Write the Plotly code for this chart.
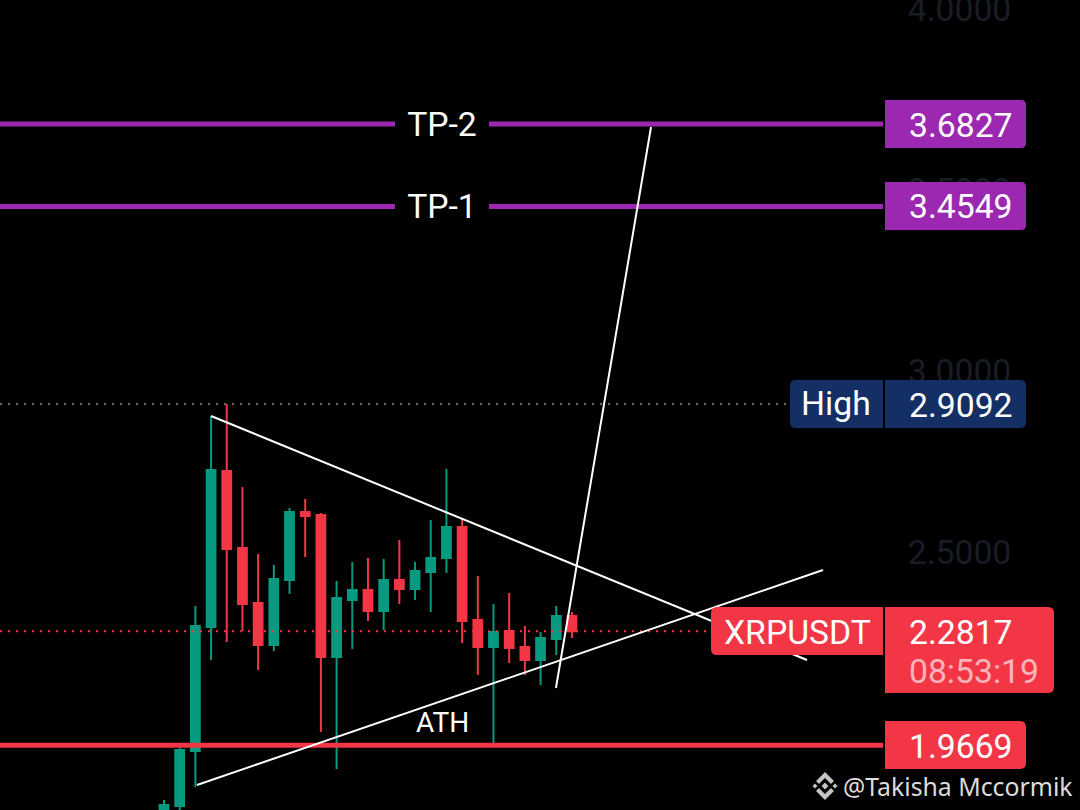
import plotly.graph_objects as go

W, H = 1080, 810

# ---- data ----
candle_index = list(range(27))
open_ = [1.7738, 1.7987, 1.9507, 2.2932, 2.7241, 2.5114, 2.3595, 2.2435, 2.4230, 2.6108, 2.6025, 2.2103, 2.3677, 2.3954,
         2.3374, 2.4230, 2.3981, 2.4451, 2.4838, 2.5694, 2.3125, 2.2379, 2.2821, 2.2379, 2.2020, 2.2600, 2.3235]
high = [1.8153, 1.9589, 2.3512, 2.8760, 2.9092, 2.6799, 2.4948, 2.4645, 2.6219, 2.6467, 2.6081, 2.4202, 2.4727, 2.4838,
        2.4810, 2.5335, 2.4727, 2.5888, 2.7296, 2.5943, 2.4340, 2.3567, 2.3871, 2.2959, 2.2794, 2.3512, 2.3346]
low = [1.7600, 1.7700, 1.8512, 2.2020, 2.2517, 2.2821, 2.1744, 2.2269, 2.3843, 2.4865, 2.0031, 1.9009, 2.2324, 2.3097,
       2.2849, 2.3567, 2.3677, 2.3346, 2.4423, 2.2490, 2.1606, 1.9617, 2.1937, 2.1606, 2.1329, 2.2158, 2.2628]
close = [1.8014, 1.9534, 2.2959, 2.7269, 2.5086, 2.3567, 2.2435, 2.4258, 2.6108, 2.5998, 2.2103, 2.3733, 2.3954, 2.3374,
         2.4230, 2.3981, 2.4479, 2.4838, 2.5694, 2.3097, 2.2379, 2.2794, 2.2352, 2.2020, 2.2628, 2.3235, 2.2817]

tp2_price = 3.6827
tp1_price = 3.4549
high_price = 2.9092
last_price = 2.2817
support_price = 1.9669

upper_x, upper_y = [3.0, 40.98], [2.8760, 2.2020]
lower_x, lower_y = [2.10, 42.0], [1.8567, 2.4506]
target_x, target_y = [24.98, 31.04], [2.1247, 3.6744]

tick_vals = [2.0, 2.5, 3.0, 3.5, 4.0]
tick_text = ["2.0000", "2.5000", "3.0000", "3.5000", "4.0000"]

# ---- colours ----
GREEN, RED, PURPLE, NAVY = "#089981", "#F23645", "#9C27B0", "#132F63"
FONT = "Roboto"
TEXT_SIZE = 33.7

# ---- axis geometry ----
PX_PER_BAR = 15.69
X0_PX = 164
DOMAIN_END_PX = 895
x_range = [(0 - X0_PX) / PX_PER_BAR, (DOMAIN_END_PX - X0_PX) / PX_PER_BAR]
y_range = [1.7877, 4.0252]
level_end = (883 - X0_PX) / PX_PER_BAR
high_end = (790 - X0_PX) / PX_PER_BAR
last_end = (711 - X0_PX) / PX_PER_BAR


def px(v):
    return v / W


def py(v):
    return 1 - v / H


def rbox(x0, y0, x1, y1, color, tl=0, tr=0, br=0, bl=0):
    P = lambda a, b: f"{px(a):.5f},{py(b):.5f}"
    d = f"M{P(x0 + tl, y0)} L{P(x1 - tr, y0)} "
    d += f"Q{P(x1, y0)} {P(x1, y0 + tr)} L{P(x1, y1 - br)} "
    d += f"Q{P(x1, y1)} {P(x1 - br, y1)} L{P(x0 + bl, y1)} "
    d += f"Q{P(x0, y1)} {P(x0, y1 - bl)} L{P(x0, y0 + tl)} "
    d += f"Q{P(x0, y0)} {P(x0 + tl, y0)} Z"
    return dict(type="path", path=d, xref="paper", yref="paper", fillcolor=color,
                line=dict(width=0), layer="above")


def level(price, x_end, color, width, dash="solid"):
    return go.Scatter(x=[x_range[0], x_end], y=[price, price], mode="lines", hoverinfo="skip",
                      line=dict(color=color, width=width, dash=dash), showlegend=False)


def white(xs, ys, width=2):
    return go.Scatter(x=xs, y=ys, mode="lines", hoverinfo="skip",
                      line=dict(color="#ffffff", width=width), showlegend=False)


fig = go.Figure()
fig.add_trace(level(high_price, high_end, "#8c8c8c", 1.5, "2px,6px"))
fig.add_trace(level(last_price, last_end, RED, 2, "2px,6px"))
fig.add_trace(level(tp2_price, level_end, PURPLE, 5))
fig.add_trace(level(tp1_price, level_end, PURPLE, 5))
fig.add_trace(level(support_price, level_end, RED, 5))
fig.add_trace(go.Candlestick(
    x=candle_index, open=open_, high=high, low=low, close=close, showlegend=False,
    increasing=dict(line=dict(color=GREEN, width=2), fillcolor=GREEN),
    decreasing=dict(line=dict(color=RED, width=2), fillcolor=RED),
))
fig.add_trace(white(upper_x, upper_y))
fig.add_trace(white(lower_x, lower_y))
fig.add_trace(white(target_x, target_y))

shapes = [
    rbox(885, 100, 1026, 148, PURPLE, tr=5, br=5),
    rbox(885, 182, 1026, 230, PURPLE, tr=5, br=5),
    rbox(790, 380, 883, 428, NAVY, tl=6, bl=6),
    rbox(885, 380, 1026, 428, NAVY, tr=6, br=6),
    rbox(711, 607, 883, 655, RED, tl=6, bl=6),
    rbox(885, 607, 1054, 693, RED, tr=6, br=6),
    rbox(885, 721, 1026, 769, RED, tr=6, br=6),
]
# Watermark logo
ICON = "#c4c4c4"
def diamond(cx, cy, r):
    P = lambda a, b: f"{px(a):.5f},{py(b):.5f}"
    return dict(type="path", path=f"M{P(cx, cy - r)} L{P(cx + r, cy)} L{P(cx, cy + r)} L{P(cx - r, cy)} Z",
                xref="paper", yref="paper", fillcolor=ICON, line=dict(width=0), layer="above")
def chevron(cx, cy, r, t, up):
    s = -1 if up else 1
    P = lambda a, b: f"{px(a):.5f},{py(b):.5f}"
    d = (f"M{P(cx, cy + s * r)} L{P(cx + r, cy)} L{P(cx + r - t, cy - s * t)} L{P(cx, cy + s * (r - 2 * t))} "
         f"L{P(cx - r + t, cy - s * t)} L{P(cx - r, cy)} Z")
    return dict(type="path", path=d, xref="paper", yref="paper", fillcolor=ICON, line=dict(width=0), layer="above")
shapes += [diamond(825, 786, 3.5), diamond(815, 786, 2.5), diamond(835, 786, 2.5),
           chevron(825, 781, 9, 3, True), chevron(825, 791, 9, 3, False)]


def label(text, x, y, size=TEXT_SIZE, color="#ffffff", anchor="left", bg=None, width=None, family=FONT):
    d = dict(text=text, x=px(x), y=py(y), xref="paper", yref="paper", xanchor=anchor, yanchor="middle",
             showarrow=False, font=dict(family=family, size=size, color=color), borderpad=0, borderwidth=0, align="center")
    if bg:
        d["bgcolor"] = bg
    if width:
        d["width"] = width
    return d


annotations = [
    label("TP-2", 442, 124, anchor="center", bg="#000000", width=94),
    label("TP-1", 442, 206, anchor="center", bg="#000000", width=94),
    label(f"{tp2_price:.4f}", 909, 125),
    label(f"{tp1_price:.4f}", 909, 207),
    label("High", 801, 403),
    label(f"{high_price:.4f}", 909, 405),
    label("XRPUSDT", 724, 632),
    label(f"{last_price:.4f}", 909, 632),
    label("08:53:19", 909, 671, color="#F9B4BB"),
    label(f"{support_price:.4f}", 909, 746),
    label("ATH", 442, 722, size=28, anchor="center"),
    label("@Takisha Mccormik", 843, 786, size=24.8, color="#dcdcdc", family="Noto Sans"),
]

fig.update_layout(
    width=W, height=H, margin=dict(l=0, r=0, t=0, b=0, autoexpand=False),
    paper_bgcolor="#000000", plot_bgcolor="#000000", showlegend=False,
    boxgap=0.203,
    xaxis=dict(domain=[0, DOMAIN_END_PX / W], range=x_range, visible=False, rangeslider=dict(visible=False),
               showgrid=False, zeroline=False),
    yaxis=dict(range=y_range, side="right", tickmode="array", tickvals=tick_vals, ticktext=tick_text,
               ticklabeloverflow="allow", automargin=False,
               showgrid=False, zeroline=False, showline=False, ticks="outside", ticklen=5, tickcolor="rgba(0,0,0,0)",
               tickfont=dict(family=FONT, size=TEXT_SIZE, color="#181d26")),
    shapes=shapes, annotations=annotations,
)

fig.write_html("out.html", config={"displayModeBar": False},
               post_script="document.body.style.margin='0';document.body.style.background='#000';")
